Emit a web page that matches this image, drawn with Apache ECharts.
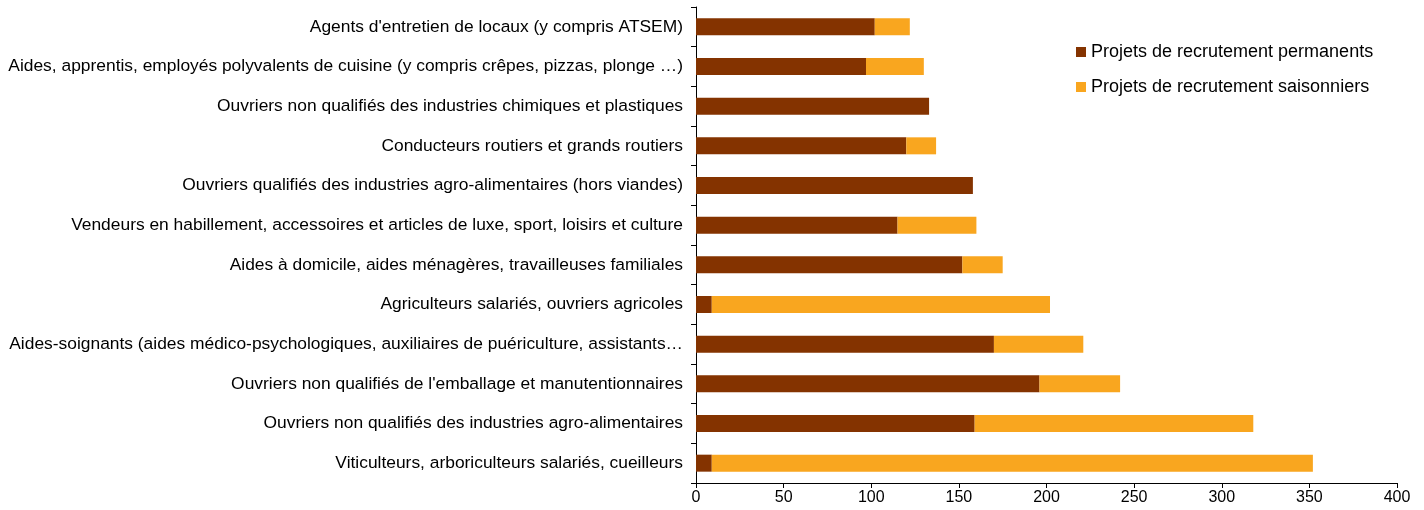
<!DOCTYPE html>
<html>
<head>
<meta charset="utf-8">
<script src="https://cdn.jsdelivr.net/npm/echarts@6/dist/echarts.min.js"></script>
<style>
  html, body { margin: 0; padding: 0; background: #fff; }
  #main { width: 1424px; height: 510px; }
</style>
</head>
<body>
<div id="main"></div>
<script>
// métiers, du haut vers le bas
const categories = [
  "Agents d'entretien de locaux (y compris ATSEM)",
  "Aides, apprentis, employés polyvalents de cuisine (y compris crêpes, pizzas, plonge …)",
  "Ouvriers non qualifiés des industries chimiques et plastiques",
  "Conducteurs routiers et grands routiers",
  "Ouvriers qualifiés des industries agro-alimentaires (hors viandes)",
  "Vendeurs en habillement, accessoires et articles de luxe, sport, loisirs et culture",
  "Aides à domicile, aides ménagères, travailleuses familiales",
  "Agriculteurs salariés, ouvriers agricoles",
  "Aides-soignants (aides médico-psychologiques, auxiliaires de puériculture, assistants…",
  "Ouvriers non qualifiés de l'emballage et manutentionnaires",
  "Ouvriers non qualifiés des industries agro-alimentaires",
  "Viticulteurs, arboriculteurs salariés, cueilleurs"
];
const permanents = [102, 97, 133, 120, 158, 115, 152, 9, 170, 196, 159, 9];
const saisonniers = [20, 33, 0, 17, 0, 45, 23, 193, 51, 46, 159, 343];
const xTicks = { min: 0, max: 400, interval: 50 };

const font = "Liberation Sans, Arial, sans-serif";
const chart = echarts.init(document.getElementById("main"));
chart.setOption({
  animation: false,
  textStyle: { fontFamily: font },
  grid: { left: 696, right: 27, top: 7, bottom: 27 },
  legend: {
    orient: "vertical",
    left: 1071,
    top: 38,
    itemWidth: 10,
    itemHeight: 10,
    itemGap: 17,
    icon: "rect",
    textStyle: { fontFamily: font, fontSize: 18, color: "#000" },
    data: ["Projets de recrutement permanents", "Projets de recrutement saisonniers"]
  },
  xAxis: {
    type: "value",
    min: xTicks.min,
    max: xTicks.max,
    interval: xTicks.interval,
    splitLine: { show: false },
    axisLine: { show: true, lineStyle: { color: "#000" } },
    axisTick: { show: true, length: 5, lineStyle: { color: "#000" } },
    axisLabel: { color: "#000", fontSize: 16, margin: 7 }
  },
  yAxis: {
    type: "category",
    inverse: true,
    data: categories,
    axisLine: { show: true, lineStyle: { color: "#000" } },
    axisTick: { show: true, length: 5, lineStyle: { color: "#000" } },
    axisLabel: { color: "#000", fontSize: 17.4, margin: 13 }
  },
  series: [
    {
      name: "Projets de recrutement permanents",
      type: "bar",
      stack: "total",
      barWidth: 17,
      itemStyle: { color: "#843300" },
      data: permanents
    },
    {
      name: "Projets de recrutement saisonniers",
      type: "bar",
      stack: "total",
      barWidth: 17,
      itemStyle: { color: "#F9A61F" },
      data: saisonniers
    }
  ]
});
</script>
</body>
</html>
